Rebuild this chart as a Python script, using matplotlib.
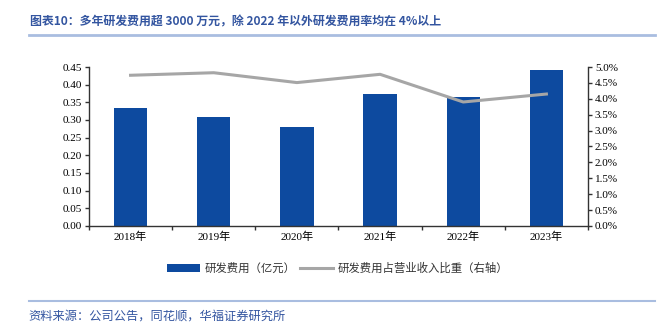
import numpy as np
import matplotlib
matplotlib.use('Agg')
import matplotlib.pyplot as plt
from matplotlib.ticker import FuncFormatter, MultipleLocator, FixedLocator

plt.rcParams['font.family'] = ['Liberation Serif', 'Noto Sans CJK SC']
plt.rcParams['axes.unicode_minus'] = False

# 数据
years = ['2018年', '2019年', '2020年', '2021年', '2022年', '2023年']
rd_cost = [0.333, 0.308, 0.279, 0.374, 0.364, 0.441]       # 亿元
rd_ratio = [4.74, 4.82, 4.51, 4.77, 3.90, 4.15]             # %

BAR_C = '#0d4a9f'
LINE_C = '#a6a6a6'
BLUE_T = '#3355a0'
CJK = ['Noto Sans CJK SC', 'Liberation Serif']

fig = plt.figure(figsize=(6.65, 3.27), dpi=100)
ax = fig.add_axes([0.1338, 0.3089, 0.7504, 0.4862])
x = np.arange(len(years))

ax.bar(x, rd_cost, width=0.4, color=BAR_C, label='研发费用（亿元）', zorder=2)
ax.set_ylim(0, 0.45)
ax.set_xlim(-0.5, len(years) - 0.5)
ax.yaxis.set_major_locator(MultipleLocator(0.05))
ax.yaxis.set_major_formatter(FuncFormatter(lambda v, p: f'{v:.2f}'))

# x轴：刻度在分界处，标签在中间
ax.xaxis.set_major_locator(FixedLocator(np.arange(-0.5, len(years), 1.0)))
ax.xaxis.set_major_formatter(FuncFormatter(lambda v, p: ''))
ax.xaxis.set_minor_locator(FixedLocator(x))
ax.set_xticklabels(years, minor=True)
ax.tick_params(axis='x', which='major', direction='out', length=3, width=1, color='#333333')
ax.tick_params(axis='x', which='minor', length=0, pad=4, labelsize=8)
ax.tick_params(axis='y', direction='out', length=3, width=1, color='#333333', labelsize=8, pad=2)

ax2 = ax.twinx()
ax2.plot(x, rd_ratio, color=LINE_C, linewidth=2.2, label='研发费用占营业收入比重（右轴）', zorder=3)
ax2.set_ylim(0, 5.0)
ax2.yaxis.set_major_locator(MultipleLocator(0.5))
ax2.yaxis.set_major_formatter(FuncFormatter(lambda v, p: f'{v:.1f}%'))
ax2.tick_params(axis='y', direction='out', length=3, width=1, color='#333333', labelsize=8, pad=2)

for a in (ax, ax2):
    a.spines['top'].set_visible(False)
    for s in ('left', 'right', 'bottom'):
        a.spines[s].set_color('#333333')
        a.spines[s].set_linewidth(1)
ax.spines['right'].set_visible(False)
ax2.spines['left'].set_visible(False)
ax2.spines['bottom'].set_visible(False)

h1, l1 = ax.get_legend_handles_labels()
h2, l2 = ax2.get_legend_handles_labels()
fig.legend(h1 + h2, l1 + l2, loc='center', bbox_to_anchor=(0.5075, 0.18), ncol=2,
           frameon=False, handlelength=2.9, handletextpad=0.4, columnspacing=0.4,
           prop={'family': CJK, 'size': 8.2}, labelcolor='#333333')

# 标题与来源
fig.text(0.045, 1 - 22 / 327, '图表10：多年研发费用超 3000 万元，除 2022 年以外研发费用率均在 4%以上',
         family=CJK, fontsize=8.6, color=BLUE_T, fontweight='bold', va='center', ha='left')
fig.add_artist(plt.Line2D([29 / 665, 655 / 665], [1 - 35 / 327] * 2, color='#a9bde0', linewidth=2))
fig.add_artist(plt.Line2D([29 / 665, 655 / 665], [1 - 301 / 327] * 2, color='#a9bde0', linewidth=1.5))
fig.text(0.043, 1 - 316 / 327, '资料来源：公司公告，同花顺，华福证券研究所',
         family=CJK, fontsize=8.8, color=BLUE_T, va='center', ha='left')

fig.savefig('out.png', dpi=100)
plt.close(fig)
